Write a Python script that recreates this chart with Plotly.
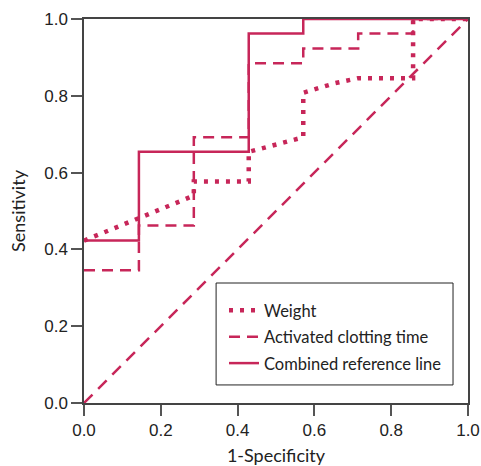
import plotly.graph_objects as go

COLOR = "#C72659"

# Weight (dotted)
weight_x = [0.0, 0.286, 0.286, 0.429, 0.429, 0.571, 0.571, 0.600, 0.654, 0.714, 0.857, 0.857, 1.0]
weight_y = [0.423, 0.540, 0.577, 0.577, 0.654, 0.692, 0.808, 0.817, 0.833, 0.846, 0.846, 1.0, 1.0]

# Activated clotting time (dashed step)
act_x = [0.0, 0.143, 0.143, 0.286, 0.286, 0.429, 0.429, 0.571, 0.571, 0.714, 0.714, 0.857, 0.857, 1.0]
act_y = [0.346, 0.346, 0.462, 0.462, 0.692, 0.692, 0.885, 0.885, 0.923, 0.923, 0.962, 0.962, 1.0, 1.0]

# Combined reference line (solid step)
comb_x = [0.0, 0.143, 0.143, 0.429, 0.429, 0.571, 0.571, 1.0]
comb_y = [0.423, 0.423, 0.654, 0.654, 0.962, 0.962, 1.0, 1.0]

diag = [0.0, 1.0]
ticks = [0.0, 0.2, 0.4, 0.6, 0.8, 1.0]
tick_text = ["0.0", "0.2", "0.4", "0.6", "0.8", "1.0"]

fig = go.Figure()
fig.add_trace(go.Scatter(x=diag, y=diag, mode="lines", showlegend=False,
                         line=dict(color=COLOR, width=2.5, dash="12px,8px")))
fig.add_trace(go.Scatter(x=weight_x, y=weight_y, mode="lines", name="Weight",
                         legendgroup="a",
                         line=dict(color=COLOR, width=4.5, dash="4px,7px")))
fig.add_trace(go.Scatter(x=act_x, y=act_y, mode="lines", name="Activated clotting time",
                         legendgroup="b",
                         line=dict(color=COLOR, width=2.5, dash="11px,7px")))
fig.add_trace(go.Scatter(x=comb_x, y=comb_y, mode="lines", name="Combined reference line",
                         legendgroup="c",
                         line=dict(color=COLOR, width=2.5)))

axis_common = dict(range=[0, 1], showgrid=False, zeroline=False, showline=True,
                   mirror=True, linecolor="#444", linewidth=1.5, automargin=False,
                   ticks="outside", ticklen=11, tickwidth=1.5, tickcolor="#555",
                   tickvals=ticks, ticktext=tick_text,
                   tickfont=dict(family="Liberation Sans, Arial", size=17, color="#222"))

title_font = dict(family="Lato, Open Sans", size=18, color="#222")

fig.update_layout(
    width=481, height=466,
    margin=dict(l=84, r=13, t=19, b=63),
    plot_bgcolor="white", paper_bgcolor="white",
    xaxis=dict(**axis_common,
               title=dict(text="1-Specificity", standoff=14, font=title_font)),
    yaxis=dict(**axis_common,
               title=dict(text="Sensitivity", standoff=14, font=title_font)),
    legend=dict(x=0.3646, y=0.2865, xanchor="left", yanchor="top",
                borderwidth=0, bgcolor="rgba(0,0,0,0)",
                tracegroupgap=2,
                font=dict(family="Lato, Open Sans", size=16.5, color="#222")),
    shapes=[dict(type="rect", xref="paper", yref="paper",
                 x0=0.344, x1=0.961, y0=0.047, y1=0.3125,
                 line=dict(color="#222", width=1), fillcolor="white", layer="above")],
)

fig.write_html("out.html", config={"displayModeBar": False},
               post_script="document.body.style.margin='0';document.body.style.overflow='hidden';")
